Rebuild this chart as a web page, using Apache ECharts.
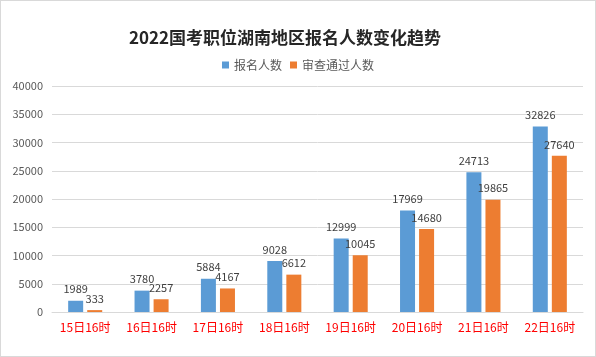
<!DOCTYPE html>
<html><head><meta charset="utf-8">
<script src="https://cdn.jsdelivr.net/npm/echarts@6/dist/echarts.min.js"></script>
<style>html,body{margin:0;padding:0;background:#fff}#c{width:594px;height:355px;border:1px solid #d9d9d9}</style>
</head><body><div id="c"></div>
<script>
const categories = ['15日16时','16日16时','17日16时','18日16时','19日16时','20日16时','21日16时','22日16时'];
const applicants = [1989,3780,5884,9028,12999,17969,24713,32826];
const approved = [333,2257,4167,6612,10045,14680,19865,27640];
const seriesNames = ['报名人数','审查通过人数'];
const yTicks = {min:0,max:40000,interval:5000};

const chart = echarts.init(document.getElementById('c'));
const lbl = {show:true,position:'top',distance:6,color:'#404040',fontSize:11,fontFamily:'Noto Sans CJK SC'};
chart.setOption({
  animation:false,
  title:{text:'2022国考职位湖南地区报名人数变化趋势',left:279,top:23,textAlign:'center',
    textStyle:{fontSize:17,fontWeight:'bold',color:'#262626',fontFamily:'Noto Sans CJK SC'}},
  legend:{top:53,left:'center',itemWidth:7,itemHeight:7,itemGap:8,icon:'rect',
    textStyle:{fontSize:12,color:'#595959',fontFamily:'Noto Sans CJK SC'}},
  grid:{left:51,right:12,top:85,bottom:44},
  xAxis:{type:'category',data:categories,
    axisLine:{lineStyle:{color:'#d9d9d9'}},axisTick:{show:false},
    axisLabel:{color:'#ff0000',fontSize:12,margin:9,fontFamily:'Noto Sans CJK SC'}},
  yAxis:{type:'value',min:yTicks.min,max:yTicks.max,interval:yTicks.interval,
    axisLine:{show:false},axisTick:{show:false},
    splitLine:{lineStyle:{color:'#d9d9d9'}},
    axisLabel:{color:'#595959',fontSize:11,margin:9,fontFamily:'Noto Sans CJK SC',formatter:v=>String(v)}},
  series:[
    {name:seriesNames[0],type:'bar',data:applicants,barWidth:15,barGap:'27%',itemStyle:{color:'#5b9bd5'},label:lbl},
    {name:seriesNames[1],type:'bar',data:approved,barWidth:15,itemStyle:{color:'#ed7d31'},label:lbl}
  ]
});
</script></body></html>
